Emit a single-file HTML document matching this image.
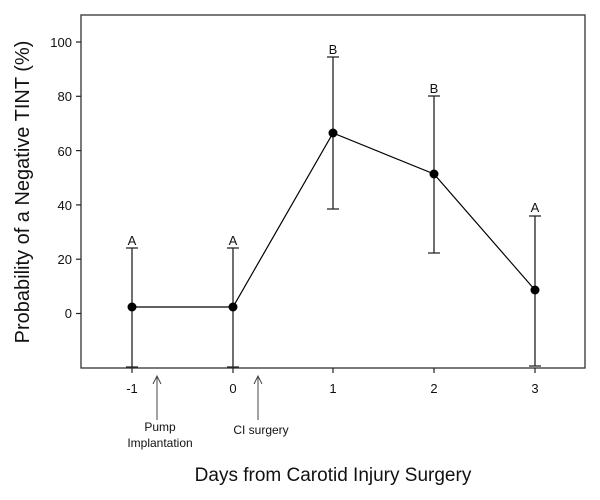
<!DOCTYPE html>
<html><head><style>body{margin:0;background:#fff}svg{display:block}</style></head><body>
<svg width="600" height="500" xmlns="http://www.w3.org/2000/svg" font-family="Liberation Sans, Arial, sans-serif">
<rect x="81" y="15" width="504" height="353" fill="none" stroke="#333" stroke-width="1.3"/>
<g stroke="#222" stroke-width="1.2">
<line x1="76" y1="42" x2="81" y2="42"/><line x1="76" y1="96.3" x2="81" y2="96.3"/><line x1="76" y1="150.6" x2="81" y2="150.6"/><line x1="76" y1="204.9" x2="81" y2="204.9"/><line x1="76" y1="259.2" x2="81" y2="259.2"/><line x1="76" y1="313.5" x2="81" y2="313.5"/>
<line x1="132" y1="368" x2="132" y2="373"/><line x1="233" y1="368" x2="233" y2="373"/><line x1="333" y1="368" x2="333" y2="373"/><line x1="434" y1="368" x2="434" y2="373"/><line x1="535" y1="368" x2="535" y2="373"/>
</g>
<g font-size="13" text-anchor="end" fill="#111">
<text x="72" y="47">100</text><text x="72" y="101">80</text><text x="72" y="156">60</text><text x="72" y="210">40</text><text x="72" y="264">20</text><text x="72" y="318">0</text>
</g>
<g font-size="13" text-anchor="middle" fill="#111">
<text x="132" y="393">-1</text><text x="233" y="393">0</text><text x="333" y="393">1</text><text x="434" y="393">2</text><text x="535" y="393">3</text>
</g>
<g stroke="#222" stroke-width="1.3" fill="none">
<path d="M132 248V367M126 248H138M126 367H138"/>
<path d="M233 248V367M227 248H239M227 367H239"/>
<path d="M333 57V209M327 57H339M327 209H339"/>
<path d="M434 96V253M428 96H440M428 253H440"/>
<path d="M535 216V366M529 216H541M529 366H541"/>
<polyline points="132,307 233,307 333,133 434,174 535,290" stroke="#000" stroke-width="1.2"/>
</g>
<g fill="#000"><circle cx="132" cy="307" r="4.5"/><circle cx="233" cy="307" r="4.5"/><circle cx="333" cy="133" r="4.5"/><circle cx="434" cy="174" r="4.5"/><circle cx="535" cy="290" r="4.5"/></g>
<g font-size="13" text-anchor="middle" fill="#111">
<text x="132" y="245">A</text><text x="233" y="245">A</text><text x="333" y="54">B</text><text x="434" y="93">B</text><text x="535" y="212">A</text>
</g>
<g stroke="#444" stroke-width="1" fill="none">
<path d="M157 420V376M153 384L157 376L161 384"/>
<path d="M258 420V376M254 384L258 376L262 384"/>
</g>
<g font-size="12" text-anchor="middle" fill="#111">
<text x="160" y="431">Pump</text><text x="160" y="447">Implantation</text><text x="261" y="434">CI surgery</text>
</g>
<text x="333" y="481" font-size="19" text-anchor="middle" fill="#111">Days from Carotid Injury Surgery</text>
<text transform="translate(29,192) rotate(-90)" font-size="20" text-anchor="middle" fill="#111">Probability of a Negative TINT (%)</text>
</svg>
</body></html>
